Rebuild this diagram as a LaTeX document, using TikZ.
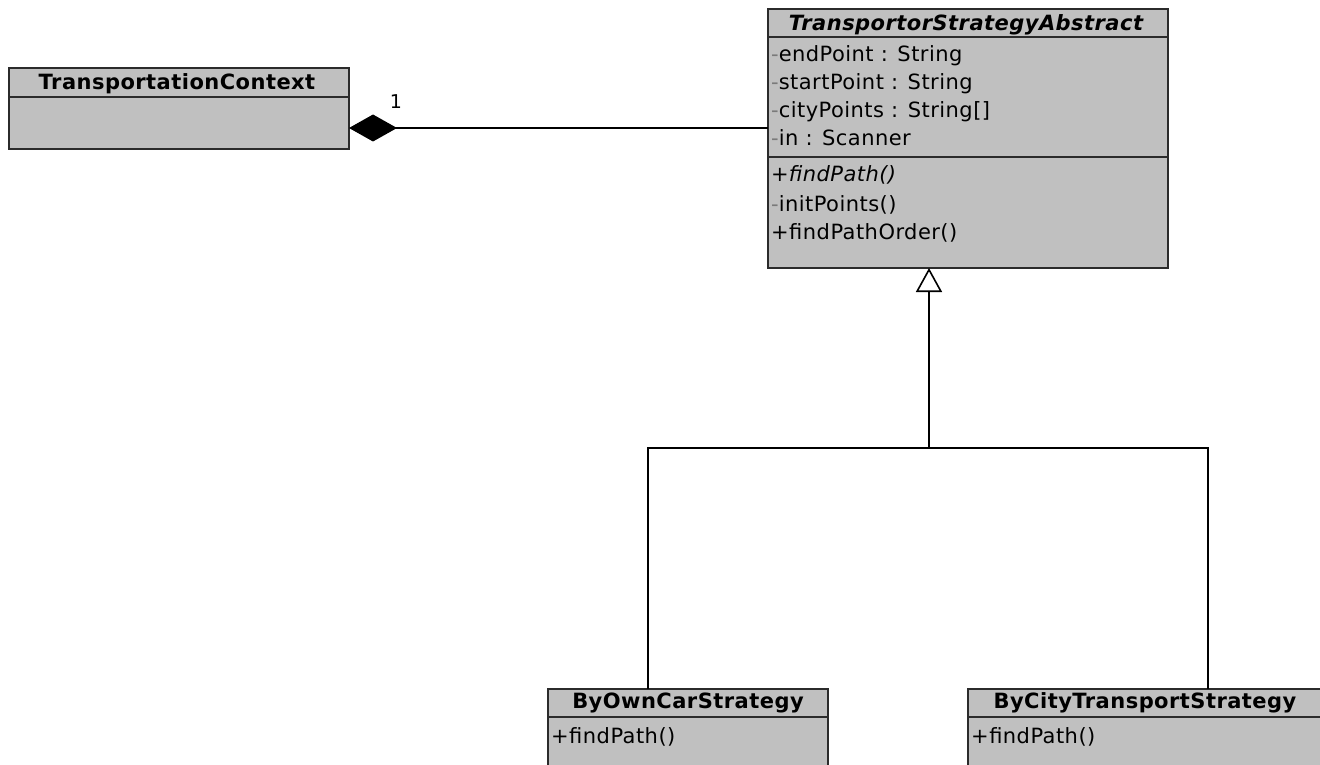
\documentclass[tikz,border=0pt]{standalone}
\usepackage{fontspec}
\setmainfont{DejaVu Sans}[LetterSpace=2.2]
\usetikzlibrary{arrows.meta}
\definecolor{classfill}{HTML}{C0C0C0}
\definecolor{edge}{HTML}{2B2B2B}
\definecolor{vis}{HTML}{7A7A7A}

\tikzset{
  classbox/.style={draw=edge, line width=1.6pt, fill=classfill, anchor=north west,
    inner sep=0pt, outer sep=0pt},
  divider/.style={draw=edge, line width=1.6pt},
  title/.style={font=\fontsize{21}{25}\selectfont\bfseries, anchor=base, inner sep=0pt},
  abstitle/.style={title, font=\fontsize{21}{25}\selectfont\bfseries\itshape},
  member/.style={font=\fontsize{21}{25}\selectfont, anchor=base west, inner sep=0pt},
  mult/.style={font=\fontsize{19}{21}\selectfont, inner sep=0pt},
  link/.style={draw=black, line width=1.6pt},
}
\newcommand{\priv}{{\color{vis}-}}

\begin{document}
\begin{tikzpicture}[x=1pt, y=-1pt]
  \fill[white] (0,0) rectangle (1320,765);
  \useasboundingbox (0,0) rectangle (1320,765);
  \clip (0,0) rectangle (1320,765);

  % context class
  \node[classbox, minimum width=340pt, minimum height=81pt] (ctx) at (9,68) {};
  \node[title] (ctxname) at (177,90) {TransportationContext};
  \draw[divider] (ctx.west |- 0,97) -- (ctx.east |- 0,97);

  % abstract strategy class
  \node[classbox, minimum width=400pt, minimum height=259pt] (abs) at (768,9) {};
  \node[abstitle] (absname) at (966,31) {TransportorStrategyAbstract};
  \draw[divider] (abs.west |- 0,37) -- (abs.east |- 0,37);
  \draw[divider] (abs.west |- 0,157) -- (abs.east |- 0,157);
  \node[member] (a1) at (771,62)  {\priv endPoint : String};
  \node[member] (a2) at (771,90)  {\priv startPoint : String};
  \node[member] (a3) at (771,118) {\priv cityPoints : String[]};
  \node[member] (a4) at (771,146) {\priv in : Scanner};
  \node[member] (o1) at (771,182) {+\textit{findPath()}};
  \node[member] (o2) at (771,211) {\priv initPoints()};
  \node[member] (o3) at (771,239) {+findPathOrder()};

  % concrete strategies
  \node[classbox, minimum width=280pt, minimum height=100pt] (car) at (548,689) {};
  \node[title] (carname) at (688,708) {ByOwnCarStrategy};
  \draw[divider] (car.west |- 0,717) -- (car.east |- 0,717);
  \node[member] (c1) at (551,743) {+findPath()};

  \node[classbox, minimum width=354pt, minimum height=100pt] (city) at (968,689) {};
  \node[title] (cityname) at (1145,708) {ByCityTransportStrategy};
  \draw[divider] (city.west |- 0,717) -- (city.east |- 0,717);
  \node[member] (t1) at (971,743) {+findPath()};

  % composition
  \coordinate (cy) at (0,128);
  \draw[link, {Diamond[length=48pt, width=27pt]}-] (ctx.east |- cy) -- (abs.west |- cy);
  \node[mult] (m1) at (396,101.5) {1};

  % generalization tree
  \coordinate (jc) at (929,448);
  \coordinate (jl) at (648,448);
  \coordinate (jr) at (1208,448);
  \draw[link] (jl |- car.north) -- (jl) -- (jr) -- (jr |- city.north);
  \draw[link, -{Triangle[open, length=24pt, width=26pt, fill=white]}] (jc) -- (jc |- abs.south);
\end{tikzpicture}
\end{document}
